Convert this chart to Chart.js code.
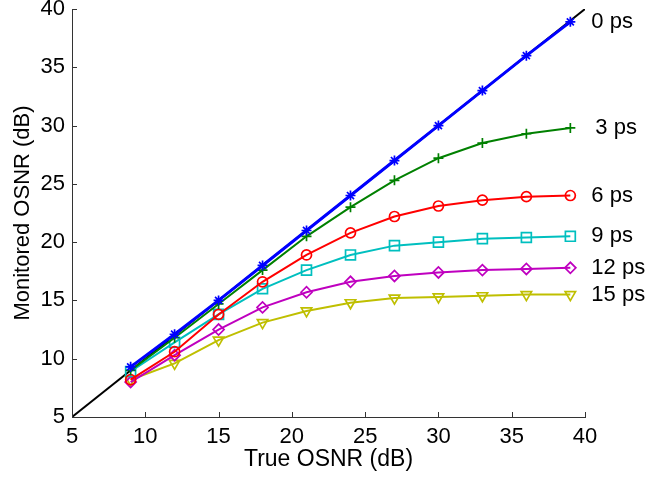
<!DOCTYPE html>
<html>
<head>
<meta charset="utf-8">
<title>Monitored vs True OSNR</title>
<script src="https://cdn.jsdelivr.net/npm/chart.js@4/dist/chart.umd.min.js"></script>
<style>
  html, body { margin: 0; padding: 0; background: #fff; }
  #wrap { width: 653px; height: 477px; }
</style>
</head>
<body>
<div id="wrap"><canvas id="chart" width="653" height="477"></canvas></div>
<script>
  // data
  var trueOsnr = [9, 12, 15, 18, 21, 24, 27, 30, 33, 36, 39];
  var dgd0 = [9.3, 12.1, 15.0, 18.0, 21.0, 24.0, 27.0, 30.0, 33.0, 36.0, 38.9];
  var dgd3 = [9.0, 11.8, 14.7, 17.6, 20.5, 23.0, 25.3, 27.2, 28.5, 29.3, 29.8];
  var dgd6 = [8.2, 10.6, 13.8, 16.6, 18.9, 20.8, 22.2, 23.1, 23.6, 23.9, 24.0];
  var dgd9 = [8.9, 11.4, 13.8, 16.0, 17.6, 18.9, 19.7, 20.0, 20.3, 20.4, 20.5];
  var dgd12 = [8.0, 10.3, 12.5, 14.4, 15.7, 16.6, 17.1, 17.4, 17.6, 17.7, 17.8];
  var dgd15 = [8.2, 9.6, 11.6, 13.1, 14.1, 14.8, 15.2, 15.3, 15.4, 15.5, 15.5];
  var refX = [5, 40];
  var refY = [5, 40];
  var seriesLabels = ['0 ps', '3 ps', '6 ps', '9 ps', '12 ps', '15 ps'];
  var xTicks = [5, 10, 15, 20, 25, 30, 35, 40];
  var yTicks = [5, 10, 15, 20, 25, 30, 35, 40];

  var FONT = '"Liberation Sans", Arial, sans-serif';

  function toPoints(xs, ys) {
      var out = [];
      for (var i = 0; i < xs.length; i++) {
          out.push({ x: xs[i], y: ys[i] });
      }
      return out;
  }

  function makeSeries(label, values, color, style, rot, width, radius) {
      return {
          label: label,
          data: toPoints(trueOsnr, values),
          borderColor: color,
          backgroundColor: 'rgba(0,0,0,0)',
          borderWidth: width,
          pointStyle: style,
          pointRotation: rot,
          pointRadius: radius,
          pointBorderWidth: 1.7,
          pointBorderColor: color,
          pointBackgroundColor: 'rgba(0,0,0,0)',
          tension: 0,
          fill: false
      };
  }

  // MATLAB style ticks that point into the plot
  var inwardTicks = {
      id: 'inwardTicks',
      afterDraw: function(chart) {
          var ctx = chart.ctx;
          var xs = chart.scales.x, ys = chart.scales.y;
          ctx.save();
          ctx.strokeStyle = '#333';
          ctx.lineWidth = 1;
          ctx.beginPath();
          xTicks.forEach(function(t) {
              var px = Math.round(xs.getPixelForValue(t)) + 0.5;
              ctx.moveTo(px, ys.bottom);
              ctx.lineTo(px, ys.bottom - 5);
          });
          yTicks.forEach(function(t) {
              var py = Math.round(ys.getPixelForValue(t)) + 0.5;
              ctx.moveTo(xs.left, py);
              ctx.lineTo(xs.left + 5, py);
          });
          ctx.stroke();
          ctx.restore();
      }
  };

  // "N ps" text next to the last point of each curve
  var curveLabels = {
      id: 'curveLabels',
      afterDatasetsDraw: function(chart) {
          var ctx = chart.ctx;
          var xs = chart.scales.x, ys = chart.scales.y;
          var lastX = trueOsnr[trueOsnr.length - 1];
          var ends = [dgd0, dgd3, dgd6, dgd9, dgd12, dgd15];
          ctx.save();
          ctx.font = '22px ' + FONT;
          ctx.fillStyle = '#000';
          ctx.textAlign = 'left';
          ctx.textBaseline = 'middle';
          for (var i = 0; i < ends.length; i++) {
              var v = ends[i][ends[i].length - 1];
              var nudge = i == 1 ? 25 : 21;
              ctx.fillText(seriesLabels[i], xs.getPixelForValue(lastX) + nudge, ys.getPixelForValue(v));
          }
          ctx.restore();
      }
  };

  var datasets = [
      makeSeries('0 ps', dgd0, '#0000ff', 'star', 0, 3, 5),
      makeSeries('3 ps', dgd3, '#008000', 'cross', 0, 2, 5),
      makeSeries('6 ps', dgd6, '#ff0000', 'circle', 0, 2, 5),
      makeSeries('9 ps', dgd9, '#00bfbf', 'rect', 0, 2, 7),
      makeSeries('12 ps', dgd12, '#bf00bf', 'rectRot', 0, 2, 5.5),
      makeSeries('15 ps', dgd15, '#bfbf00', 'triangle', 180, 2, 6),
      {
          label: 'ideal',
          data: toPoints(refX, refY),
          borderColor: '#000',
          borderWidth: 2,
          pointRadius: 0,
          fill: false
      }
  ];

  var ctx = document.getElementById('chart').getContext('2d');
  var myChart = new Chart(ctx, {
      type: 'line',
      data: { datasets: datasets },
      plugins: [inwardTicks, curveLabels],
      options: {
          responsive: false,
          animation: false,
          layout: { padding: { top: 9, right: 68, left: 0, bottom: 0 } },
          plugins: {
              legend: { display: false },
              tooltip: { enabled: false }
          },
          scales: {
              x: {
                  type: 'linear',
                  min: 5,
                  max: 40,
                  afterBuildTicks: function(scale) {
                      scale.ticks = xTicks.map(function(v) { return { value: v }; });
                  },
                  afterFit: function(scale) {
                      scale.height = 60;
                      scale.paddingLeft = 0;
                      scale.paddingRight = 0;
                  },
                  ticks: {
                      autoSkip: false,
                      maxRotation: 0,
                      padding: 7,
                      color: '#000',
                      font: { family: FONT, size: 22 }
                  },
                  grid: { drawOnChartArea: false, drawTicks: false },
                  border: { color: '#333', width: 1 },
                  title: {
                      display: true,
                      text: 'True OSNR (dB)',
                      color: '#000',
                      padding: { top: 0, bottom: 4 },
                      font: { family: FONT, size: 23 }
                  }
              },
              y: {
                  type: 'linear',
                  min: 5,
                  max: 40,
                  afterBuildTicks: function(scale) {
                      scale.ticks = yTicks.map(function(v) { return { value: v }; });
                  },
                  afterFit: function(scale) {
                      scale.width = 72;
                      scale.paddingTop = 0;
                      scale.paddingBottom = 0;
                  },
                  ticks: {
                      autoSkip: false,
                      padding: 7,
                      color: '#000',
                      font: { family: FONT, size: 22 }
                  },
                  grid: { drawOnChartArea: false, drawTicks: false },
                  border: { color: '#333', width: 1 },
                  title: {
                      display: true,
                      text: 'Monitored OSNR (dB)',
                      color: '#000',
                      padding: { top: 10, bottom: 0 },
                      font: { family: FONT, size: 22 }
                  }
              }
          }
      }
  });
</script>
</body>
</html>
